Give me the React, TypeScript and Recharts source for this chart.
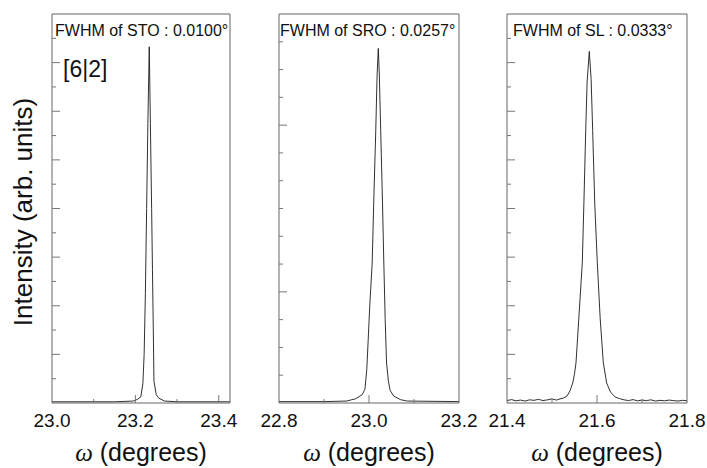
import React from "react";
import { LineChart, Line, XAxis, YAxis } from "recharts";

// STO substrate rocking curve
const stoOmega = [23.0, 23.15, 23.195, 23.205, 23.213, 23.218, 23.221, 23.224, 23.227, 23.23, 23.2333, 23.236, 23.239, 23.241, 23.243, 23.2446, 23.25, 23.256, 23.27, 23.3, 23.427];
const stoIntensity = [0.05, 0.05, 0.08, 0.15, 0.25, 0.8, 2.0, 4.5, 8.0, 11.5, 14.65, 11.5, 8.0, 5.5, 3.0, 0.9, 0.35, 0.2, 0.08, 0.05, 0.05];

// SRO layer
const sroOmega = [22.8, 22.9, 22.95, 22.97, 22.985, 22.991, 22.995, 22.998, 23.002, 23.007, 23.011, 23.015, 23.018, 23.0207, 23.023, 23.026, 23.03, 23.033, 23.036, 23.039, 23.043, 23.047, 23.055, 23.07, 23.085, 23.2];
const sroIntensity = [0.05, 0.05, 0.07, 0.15, 0.3, 0.5, 1.2, 2.2, 3.6, 5.0, 7.5, 9.8, 11.8, 12.76, 11.8, 9.8, 7.2, 5.0, 3.0, 1.44, 0.8, 0.45, 0.25, 0.12, 0.07, 0.05];

// superlattice
const slOmega = [21.4, 21.41, 21.42, 21.43, 21.44, 21.45, 21.46, 21.47, 21.48, 21.49, 21.5, 21.51, 21.52, 21.525, 21.533, 21.54, 21.546, 21.55, 21.5533, 21.56, 21.5673, 21.571, 21.5749, 21.578, 21.5829, 21.587, 21.5904, 21.595, 21.6007, 21.607, 21.614, 21.6215, 21.63, 21.64, 21.65, 21.66, 21.67, 21.68, 21.69, 21.7, 21.71, 21.72, 21.73, 21.74, 21.75, 21.76, 21.77, 21.78, 21.79, 21.8];
const slIntensity = [0.1, 0.14, 0.09, 0.12, 0.08, 0.13, 0.11, 0.15, 0.1, 0.13, 0.17, 0.12, 0.18, 0.2, 0.28, 0.5, 0.82, 1.2, 1.65, 3.6, 5.76, 8.3, 11.2, 13.2, 14.46, 13.3, 11.2, 8.2, 5.76, 3.5, 1.65, 0.82, 0.45, 0.25, 0.18, 0.13, 0.1, 0.14, 0.09, 0.12, 0.1, 0.13, 0.08, 0.11, 0.09, 0.12, 0.1, 0.08, 0.11, 0.09];

const titles = ["FWHM of STO : 0.0100\u00b0", "FWHM of SRO : 0.0257\u00b0", "FWHM of SL : 0.0333\u00b0"];

const toRows = (xs: number[], ys: number[]) => xs.map((x, i) => ({ x, y: ys[i] }));

const SANS = "'Liberation Sans', Arial, sans-serif";
const TOP = 14;
const BOTTOM = 403;
const PAD = 30;
const AX = 10; // axis band size (kept non-zero so recharts renders the axes)

type Panel = {
  left: number;
  width: number;
  domain: [number, number];
  xTicks: number[];
  xLabels: number[];
  xLong: number[];
  yMax: number;
  yTicks: number[];
  yLong: number[];
  rows: { x: number; y: number }[];
  title: string;
  titleDx: number;
};

const panels: Panel[] = [
  {
    left: 52, width: 178, domain: [23.0, 23.427],
    xTicks: [23.0, 23.1, 23.2, 23.3, 23.4], xLabels: [23.0, 23.2, 23.4], xLong: [23.2, 23.4],
    yMax: 16, yTicks: [1, 2, 3, 4, 5, 6, 7, 8, 9, 10, 11, 12, 13, 14, 15], yLong: [2, 4, 6, 8, 10, 12, 14],
    rows: toRows(stoOmega, stoIntensity), title: titles[0], titleDx: 3,
  },
  {
    left: 279, width: 180, domain: [22.8, 23.2],
    xTicks: [22.8, 22.9, 23.0, 23.1, 23.2], xLabels: [22.8, 23.0, 23.2], xLong: [23.0],
    yMax: 14, yTicks: [1, 2, 3, 4, 5, 6, 7, 8, 9, 10, 11, 12, 13], yLong: [4, 10],
    rows: toRows(sroOmega, sroIntensity), title: titles[1], titleDx: 1,
  },
  {
    left: 507, width: 180, domain: [21.4, 21.8],
    xTicks: [21.4, 21.5, 21.6, 21.7, 21.8], xLabels: [21.4, 21.6, 21.8], xLong: [21.6],
    yMax: 16, yTicks: [1, 2, 3, 4, 5, 6, 7, 8, 9, 10, 11, 12, 13, 14, 15], yLong: [2, 4, 6, 8, 10, 12, 14],
    rows: toRows(slOmega, slIntensity), title: titles[2], titleDx: 6,
  },
];

const near = (list: number[], v: number) => list.some((t) => Math.abs(t - v) < 1e-6);

const XTick = (props: any) => {
  const { x, payload, p } = props;
  const v = payload.value;
  const isEdge = near([p.domain[0], p.domain[1]], v);
  const len = near(p.xLong, v) ? 8 : 4;
  return (
    <g>
      {!isEdge && <line x1={x} x2={x} y1={BOTTOM} y2={BOTTOM - len} stroke="#777" strokeWidth={1} />}
      {near(p.xLabels, v) && (
        <text x={x} y={BOTTOM + 24} textAnchor="middle" fontFamily={SANS} fontSize={19} fill="#111">
          {v.toFixed(1)}
        </text>
      )}
    </g>
  );
};

const YTick = (props: any) => {
  const { y, payload, p } = props;
  const len = p.yLong.includes(payload.value) ? 8 : 4;
  return <line x1={PAD} x2={PAD + len} y1={y} y2={y} stroke="#777" strokeWidth={1} />;
};

const PanelChart = ({ p }: { p: Panel }) => (
  <div style={{ position: "absolute", left: p.left - PAD, top: 0 }}>
    <LineChart
      width={p.width + PAD * 2}
      height={468}
      data={p.rows}
      margin={{ top: TOP - AX, bottom: 468 - BOTTOM - AX, left: PAD - AX, right: PAD - AX }}
    >
      <XAxis
        dataKey="x"
        type="number"
        domain={p.domain}
        ticks={p.xTicks}
        interval={0}
        allowDataOverflow
        height={AX}
        tickSize={0}
        tickMargin={0}
        tickLine={false}
        axisLine={{ stroke: "#666" }}
        tick={(tp: any) => <XTick {...tp} p={p} />}
      />
      <XAxis xAxisId="top" orientation="top" dataKey="x" type="number" domain={p.domain} allowDataOverflow height={AX} tick={false} tickLine={false} axisLine={{ stroke: "#666" }} />
      <YAxis
        type="number"
        domain={[0, p.yMax]}
        ticks={p.yTicks}
        interval={0}
        allowDataOverflow
        width={AX}
        tickSize={0}
        tickMargin={0}
        tickLine={false}
        axisLine={{ stroke: "#666" }}
        tick={(tp: any) => <YTick {...tp} p={p} />}
      />
      <YAxis yAxisId="right" orientation="right" type="number" domain={[0, p.yMax]} allowDataOverflow width={AX} tick={false} tickLine={false} axisLine={{ stroke: "#666" }} />
      <Line dataKey="y" type="linear" stroke="#1a1a1a" strokeWidth={0.9} dot={false} isAnimationActive={false} />
    </LineChart>
  </div>
);

export default function App() {
  return (
    <div style={{ position: "absolute", left: 0, top: 0, width: 707, height: 468, background: "#fff", overflow: "hidden" }}>
      {panels.map((p, i) => (
        <PanelChart key={i} p={p} />
      ))}
      <svg width={707} height={468} style={{ position: "absolute", left: 0, top: 0, pointerEvents: "none" }}>
        {panels.map((p, i) => (
          <g key={i}>
            <text x={p.left + p.titleDx} y={36} fontFamily={SANS} fontSize={16} fill="#111">
              {p.title}
            </text>
            <text x={p.left + p.width / 2} y={461} textAnchor="middle" fontSize={25} fill="#111">
              <tspan fontFamily="'Liberation Serif', 'Times New Roman', serif" fontStyle="italic">{"\u03c9"}</tspan>
              <tspan fontFamily={SANS}>{" (degrees)"}</tspan>
            </text>
          </g>
        ))}
        <text x={63} y={77} fontFamily={SANS} fontSize={23} fill="#111">
          [6|2]
        </text>
        <text
          x={0}
          y={0}
          transform="translate(32,212) rotate(-90)"
          textAnchor="middle"
          fontFamily={SANS}
          fontSize={26}
          fill="#111"
        >
          Intensity (arb. units)
        </text>
      </svg>
    </div>
  );
}
